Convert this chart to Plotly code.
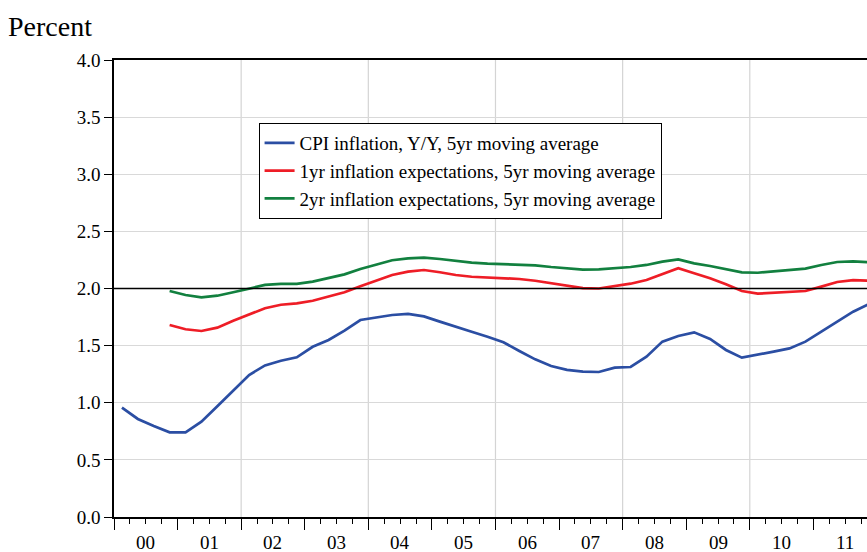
import plotly.graph_objects as go

# quarterly dates, 2000Q1 .. 2011Q4
years = list(range(2000, 2012))
quarters = [(y, q) for y in years for q in (1, 2, 3, 4)]
x_all = [y + (q - 0.5) / 4 for y, q in quarters]

cpi = [0.957, 0.858, 0.797, 0.741, 0.741, 0.834, 0.970, 1.110, 1.243, 1.327, 1.368, 1.398,
       1.490, 1.549, 1.631, 1.724, 1.748, 1.768, 1.777, 1.756, 1.710, 1.663, 1.622, 1.578,
       1.529, 1.453, 1.380, 1.322, 1.288, 1.272, 1.269, 1.307, 1.313, 1.403, 1.535, 1.584,
       1.616, 1.558, 1.462, 1.395, 1.418, 1.447, 1.476, 1.535, 1.622, 1.710, 1.797, 1.864]

# expectations series start in 2000Q4
exp1 = [1.680, 1.643, 1.628, 1.657, 1.718, 1.771, 1.827, 1.858, 1.870,
        1.893, 1.930, 1.967, 2.019, 2.071, 2.118, 2.147, 2.162, 2.142, 2.118, 2.103,
        2.098, 2.089, 2.083, 2.068, 2.045, 2.022, 2.004, 2.000, 2.019, 2.042, 2.074,
        2.125, 2.177, 2.133, 2.089, 2.037, 1.978, 1.955, 1.961, 1.967, 1.978, 2.016,
        2.057, 2.074, 2.068]
exp2 = [1.978, 1.943, 1.923, 1.937, 1.967, 2.002, 2.031, 2.040, 2.040,
        2.060, 2.095, 2.124, 2.171, 2.212, 2.247, 2.264, 2.270, 2.258, 2.240, 2.226,
        2.217, 2.212, 2.212, 2.203, 2.188, 2.174, 2.165, 2.168, 2.177, 2.188, 2.206,
        2.235, 2.255, 2.220, 2.197, 2.168, 2.142, 2.138, 2.150, 2.162, 2.174, 2.206,
        2.232, 2.238, 2.229]
x_exp = x_all[3:]

year_labels = ["00", "01", "02", "03", "04", "05", "06", "07", "08", "09", "10", "11"]
grid_years = [2002, 2004, 2006, 2008, 2010]
target = 2.0

names = ["CPI inflation, Y/Y, 5yr moving average",
         "1yr inflation expectations, 5yr moving average",
         "2yr inflation expectations, 5yr moving average"]
colors = ["#2B4EA3", "#EE1D26", "#12803F"]

FONT = "Liberation Serif, Times New Roman, serif"
x_range = [2000, 2000 + (867 - 114) / 63.58]

fig = go.Figure()
fig.add_trace(go.Scatter(x=x_all, y=cpi, mode="lines", name=names[0],
                         line=dict(color=colors[0], width=2.7)))
fig.add_trace(go.Scatter(x=x_exp, y=exp1, mode="lines", name=names[1],
                         line=dict(color=colors[1], width=2.7)))
fig.add_trace(go.Scatter(x=x_exp, y=exp2, mode="lines", name=names[2],
                         line=dict(color=colors[2], width=2.7)))

# vertical gridlines every two years
for g in grid_years:
    fig.add_shape(type="line", xref="x", yref="paper", x0=g, x1=g, y0=0, y1=1,
                  line=dict(color="#d4d4d4", width=1.2), layer="below")
# 2% reference line
fig.add_shape(type="line", xref="paper", yref="y", x0=0, x1=1, y0=target, y1=target,
              line=dict(color="black", width=1.6))

# year labels centred in each year
for y, lab in zip(years, year_labels):
    fig.add_annotation(x=y + 0.5, y=0, xref="x", yref="paper", text=lab,
                       showarrow=False, yanchor="top", yshift=-13,
                       font=dict(family=FONT, size=19, color="black"))

fig.add_annotation(text="Percent", xref="paper", yref="paper", x=0, y=1,
                   xanchor="left", yanchor="middle", xshift=-108, yshift=34,
                   showarrow=False, font=dict(family=FONT, size=28, color="black"))

fig.update_layout(
    width=867, height=552,
    margin=dict(l=114, r=0, t=60, b=35),
    paper_bgcolor="white", plot_bgcolor="white",
    font=dict(family=FONT, size=19, color="black"),
    showlegend=True,
    legend=dict(x=0.192, y=0.862, xanchor="left", yanchor="top",
                bordercolor="black", borderwidth=1, bgcolor="white",
                font=dict(family=FONT, size=19, color="black")),
    xaxis=dict(range=x_range, tickmode="array", tickvals=years + [2012],
               showticklabels=False, ticks="outside", ticklen=11, tickcolor="black",
               tickwidth=1.2, showgrid=False, zeroline=False,
               showline=True, linecolor="black", linewidth=1.6, mirror=True,
               minor=dict(tickmode="linear", tick0=2000, dtick=0.25, ticks="outside",
                          ticklen=5, tickcolor="black", tickwidth=1.2, showgrid=False)),
    yaxis=dict(range=[0, 4], dtick=0.5, tick0=0, tickformat=".1f",
               ticks="outside", ticklen=8, tickcolor="black", tickwidth=1.2,
               showgrid=True, gridcolor="#d9d9d9", gridwidth=1.2, zeroline=False,
               showline=True, linecolor="black", linewidth=1.6, mirror=False,
               tickfont=dict(family=FONT, size=19, color="black")),
)

# drop the default body margin so the 867x552 figure fills the window exactly
fig.write_html("out.html", config={"displayModeBar": False},
               post_script="document.body.style.margin='0';document.body.style.overflow='hidden';")
